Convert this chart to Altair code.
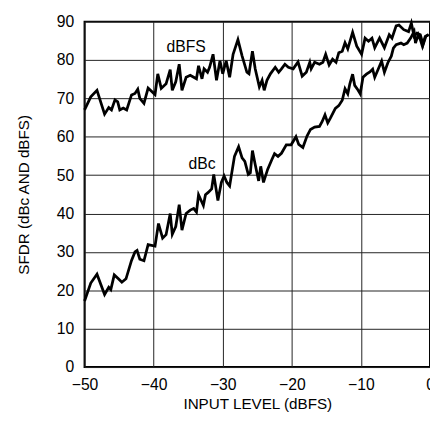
import altair as alt
import pandas as pd

# ---- data ----
x_ticks = [-50, -40, -30, -20, -10, 0]
y_ticks = [0, 10, 20, 30, 40, 50, 60, 70, 80, 90]

dbfs = [(-50, 67.0), (-49.1, 70.4), (-48.2, 72.1), (-47.1, 65.9), (-46.5, 67.6), (-46.1, 67.0),
        (-45.6, 69.6), (-45.2, 69.1), (-44.9, 67.0), (-44.4, 67.5), (-43.9, 67.0), (-43.2, 70.9),
        (-42.7, 71.3), (-42.3, 72.4), (-42.0, 70.0), (-41.4, 68.7), (-40.8, 72.7), (-39.8, 71.0),
        (-39.4, 76.4), (-38.9, 72.6), (-38.2, 73.8), (-37.6, 77.5), (-37.3, 72.1), (-36.8, 74.3),
        (-36.3, 78.9), (-35.9, 72.1), (-35.3, 75.5), (-34.7, 76.0), (-34.2, 75.5), (-33.8, 75.1),
        (-33.5, 78.5), (-33.0, 75.1), (-32.7, 77.7), (-32.2, 76.8), (-31.9, 78.1), (-31.4, 81.5),
        (-30.9, 74.7), (-30.4, 79.8), (-30.0, 76.4), (-29.5, 79.8), (-29.0, 75.5), (-28.5, 81.5),
        (-27.8, 85.3), (-27.2, 81.1), (-26.5, 76.8), (-26.2, 76.4), (-25.7, 82.3), (-25.3, 77.7),
        (-24.7, 73.0), (-24.3, 74.7), (-24.0, 72.1), (-23.6, 74.7), (-23.1, 76.4), (-22.4, 78.1),
        (-21.9, 76.8), (-21.5, 77.7), (-21.0, 78.9), (-20.5, 78.1), (-19.8, 77.7), (-19.1, 79.5),
        (-18.5, 75.8), (-17.9, 76.8), (-17.4, 79.4), (-17.2, 77.7), (-16.7, 79.4), (-16.0, 78.9),
        (-15.5, 79.4), (-15.1, 81.5), (-14.6, 78.7), (-14.1, 80.2), (-13.6, 79.4), (-13.2, 81.9),
        (-12.7, 82.3), (-12.3, 84.5), (-11.9, 82.9), (-11.2, 87.2), (-10.6, 83.6), (-9.9, 81.5),
        (-9.4, 85.7), (-8.9, 84.9), (-8.4, 85.7), (-8.0, 83.2), (-7.3, 85.7), (-6.6, 83.2),
        (-5.9, 86.6), (-5.5, 85.7), (-4.9, 88.9), (-4.5, 89.1), (-3.8, 87.9), (-3.1, 87.4),
        (-2.7, 89.6), (-2.3, 86.2), (-1.9, 87.0), (-1.4, 86.6), (-1.0, 84.0), (-0.6, 86.2),
        (-0.2, 86.6)]

dbc = [(-50, 17.2), (-49.1, 21.9), (-48.2, 24.2), (-47.1, 18.9), (-46.5, 20.8), (-46.2, 20.2),
       (-45.7, 24.0), (-45.1, 23.0), (-44.6, 22.1), (-44.0, 23.0), (-43.2, 27.8), (-42.7, 30.0),
       (-42.4, 30.4), (-42.0, 28.1), (-41.4, 27.7), (-40.8, 31.9), (-39.8, 31.5), (-39.3, 37.4),
       (-38.7, 33.6), (-38.2, 34.5), (-37.6, 40.0), (-37.3, 34.6), (-36.8, 36.6), (-36.3, 42.3),
       (-35.9, 35.7), (-35.3, 40.0), (-34.7, 40.9), (-34.2, 41.3), (-33.8, 40.4), (-33.5, 44.9),
       (-32.8, 42.1), (-32.5, 44.9), (-32.1, 45.5), (-31.6, 46.4), (-31.3, 50.2), (-30.7, 43.4),
       (-30.2, 48.1), (-29.8, 49.8), (-29.4, 48.1), (-29.0, 47.2), (-28.3, 54.9), (-27.7, 57.4),
       (-27.2, 54.5), (-26.8, 53.6), (-26.3, 50.2), (-26.0, 50.6), (-25.7, 56.4), (-25.3, 52.8),
       (-24.8, 48.5), (-24.5, 52.3), (-24.1, 48.1), (-23.5, 51.5), (-22.9, 54.0), (-22.5, 55.6),
       (-22.0, 54.9), (-21.5, 55.7), (-20.8, 57.9), (-20.1, 57.9), (-19.4, 60.0), (-19.0, 58.0),
       (-18.4, 57.2), (-17.8, 60.2), (-17.3, 61.9), (-16.7, 62.5), (-16.0, 62.7), (-15.6, 64.0),
       (-15.2, 65.7), (-14.8, 63.6), (-14.4, 64.9), (-13.7, 67.4), (-13.2, 68.1), (-12.7, 69.5),
       (-12.3, 72.5), (-11.9, 71.2), (-11.6, 73.8), (-11.2, 76.3), (-10.9, 73.4), (-10.4, 72.1),
       (-10.1, 71.2), (-9.7, 75.5), (-9.2, 76.3), (-8.7, 76.9), (-8.3, 77.6), (-8.0, 75.5),
       (-7.5, 77.6), (-7.0, 79.7), (-6.6, 76.8), (-6.1, 79.3), (-5.6, 81.0), (-5.3, 83.1),
       (-4.9, 84.0), (-4.2, 84.4), (-3.8, 84.0), (-3.3, 84.4), (-2.8, 85.7), (-2.3, 87.4),
       (-2.1, 84.4), (-1.7, 86.6), (-1.4, 85.3), (-1.1, 83.6), (-0.7, 86.1), (-0.2, 86.6)]

label_text = ["dBFS", "dBc"]
label_x = [-35.3, -33.0]
label_y = [83.3, 53.0]

FONT = "Liberation Sans"

rows = [{"level": x, "sfdr": y, "series": "dBFS"} for x, y in dbfs] + \
       [{"level": x, "sfdr": y, "series": "dBc"} for x, y in dbc]
df = pd.DataFrame(rows)
lab = pd.DataFrame({"t": label_text, "level": label_x, "sfdr": label_y})

xs = alt.Scale(domain=[-50, 0], nice=False, zero=False)
ys = alt.Scale(domain=[0, 90], nice=False, zero=False)
x_axis = alt.Axis(values=x_ticks, title="INPUT LEVEL (dBFS)", format="d",
                  labelPadding=10, titlePadding=4)
y_axis = alt.Axis(values=y_ticks, title="SFDR (dBc AND dBFS)", format="d",
                  labelPadding=11, titlePadding=25)

X = alt.X("level:Q", scale=xs, axis=x_axis)
Y = alt.Y("sfdr:Q", scale=ys, axis=y_axis)

lines = alt.Chart(df).mark_line(color="black", strokeWidth=2.8, strokeJoin="miter").encode(
    x=X, y=Y, detail="series:N", order="level:Q",
)

texts = alt.Chart(lab).mark_text(font=FONT, fontSize=16, color="black",
                                 align="center", baseline="middle").encode(
    x=X, y=Y, text="t:N")

chart = (lines + texts).properties(
    width=352, height=352,
    background="white",
    autosize=alt.AutoSizeParams(type="none"),
    padding={"left": 78, "top": 10, "right": 0, "bottom": 47},
).configure_view(stroke="black", strokeWidth=2).configure_axis(
    grid=True, gridColor="#222222", gridWidth=1, gridOpacity=1,
    domain=False, ticks=False, tickSize=0,
    labelFont=FONT, labelFontSize=16, labelColor="black",
    titleFont=FONT, titleFontSize=15.5, titleFontWeight="normal", titleColor="black",
    labelFlush=False, labelOverlap=False,
)

chart.save("out.html", embed_options={"renderer": "svg", "actions": False})
